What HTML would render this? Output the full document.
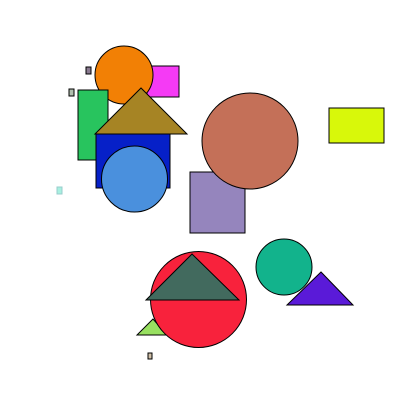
<!DOCTYPE html>
<html><head><style>body{margin:0;background:#fff}svg{display:block}</style></head>
<body>
<svg width="400" height="400" viewBox="0 0 400 400" stroke="#000" stroke-width="1">
<rect x="86" y="67" width="5" height="7" fill="#8a7a90"/>
<rect x="69" y="89" width="5" height="7" fill="#b0c0ae"/>
<rect x="57" y="187" width="5" height="7" fill="#a8f0e0" stroke="#9cc"/>
<rect x="148" y="353" width="4" height="6" fill="#d0c0a8"/>
<rect x="147" y="66" width="32" height="31" fill="#f53af5"/>
<circle cx="124" cy="75" r="29" fill="#f28005"/>
<rect x="78" y="90" width="30" height="70" fill="#28c45e"/>
<polygon points="141,88 95,134 187,134" fill="#a68424"/>
<rect x="96" y="134" width="74" height="54" fill="#0620c8"/>
<circle cx="134.5" cy="179" r="33" fill="#4a90dd"/>
<rect x="190" y="172" width="55" height="61" fill="#9585bd"/>
<circle cx="250" cy="141" r="48" fill="#c47058"/>
<rect x="329" y="108" width="55" height="35" fill="#d8f80a"/>
<circle cx="284" cy="267" r="28" fill="#12b38c"/>
<polygon points="321,272 287,305 353,305" fill="#5a1ad8"/>
<polygon points="153,319 137,335 167,335" fill="#98e060"/>
<circle cx="198.5" cy="299.5" r="48" fill="#f8223c"/>
<polygon points="192,254 146,300 239,300" fill="#426a5e"/>
</svg>
</body></html>
